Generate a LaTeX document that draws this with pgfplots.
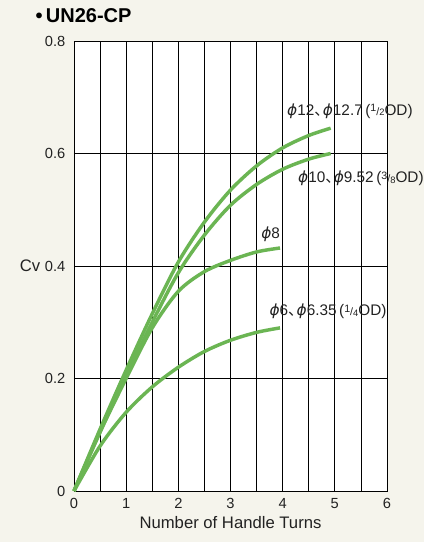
\documentclass[border=0pt]{standalone}
\usepackage{pgfplots}
\pgfplotsset{compat=1.18}
\usepackage{fontspec}
\setmainfont{Liberation Sans}
\newfontfamily\cjk{Noto Sans CJK JP}
\newfontfamily\dv{DejaVu Sans}
\usetikzlibrary{backgrounds}
\definecolor{bg}{HTML}{F5F4EC}
\definecolor{curve}{HTML}{6BB553}
\definecolor{txt}{HTML}{222222}
\newcommand{\ph}{{\dv\itshape ϕ}}
\newcommand{\cm}{{\cjk 、}\kern-0.45em}
\newcommand{\fr}[2]{\raisebox{0.4ex}{\fontsize{8}{9}\selectfont #1}{\fontsize{8}{9}\selectfont/}\raisebox{-0.1ex}{\fontsize{7}{8}\selectfont #2}}
\begin{document}
\begin{tikzpicture}[x=1pt,y=1pt]
\begin{axis}[
  scale only axis,
  width=234.75pt, height=337.5pt,
  xmin=0, xmax=6, ymin=0, ymax=0.8,
  xtick={0,1,...,6},
  minor xtick={0.5,1.5,2.5,3.5,4.5,5.5},
  ytick={0,0.2,0.4,0.6,0.8},
  yticklabels={0,0.2,0.4,0.6,0.8},
  major tick length=0pt, minor tick length=0pt,
  grid=both,
  major grid style={black, line width=0.5pt},
  minor grid style={black, line width=0.5pt},
  axis line style={black, line width=0.7pt},
  axis background/.style={fill=white},
  tick label style={font=\fontsize{11}{13}\selectfont, text=txt},
  xticklabel style={yshift=-2pt},
  yticklabel style={xshift=-3pt},
  /pgf/number format/assume math mode=true,
  clip=false,
]
\addplot[curve, line width=2.6pt, smooth] coordinates {
  (0,0) (0.5,0.11) (1,0.215) (1.5,0.315) (2,0.407) (2.5,0.478) (3,0.535) (3.5,0.578) (4,0.61) (4.5,0.632) (4.92,0.645)
};
\addplot[curve, line width=2.6pt, smooth] coordinates {
  (0,0) (0.5,0.105) (1,0.205) (1.5,0.3) (2,0.388) (2.5,0.455) (3,0.508) (3.5,0.545) (4,0.572) (4.5,0.59) (4.92,0.6)
};
\addplot[curve, line width=2.6pt, smooth] coordinates {
  (0,0) (0.5,0.105) (1,0.2) (1.5,0.29) (2,0.355) (2.5,0.39) (3,0.41) (3.5,0.425) (3.95,0.432)
};
\addplot[curve, line width=2.6pt, smooth] coordinates {
  (0,0) (0.5,0.08) (1,0.14) (1.5,0.185) (2,0.22) (2.5,0.248) (3,0.268) (3.5,0.282) (3.95,0.29)
};
\node[anchor=south, font=\fontsize{11.5}{13}\selectfont, text=txt, inner sep=0pt] at (axis cs:5.29,0.662) {\ph12\cm\ph12.7\,(\fr{1}{2}OD)};
\node[anchor=north, font=\fontsize{11.5}{13}\selectfont, text=txt, inner sep=0pt] at (axis cs:5.5,0.57) {\ph10\cm\ph9.52\,(\fr{3}{8}OD)};
\node[anchor=south, font=\fontsize{11.5}{13}\selectfont, text=txt, inner sep=0pt] at (axis cs:3.77,0.442) {\ph8};
\node[anchor=south, font=\fontsize{11.5}{13}\selectfont, text=txt, inner sep=0pt] at (axis cs:4.87,0.305) {\ph6\cm\ph6.35\,(\fr{1}{4}OD)};
\node[font=\fontsize{12.5}{14}\selectfont, text=txt, inner sep=0pt] at ([xshift=-33pt]axis cs:0,0.4) {Cv};
\node[font=\fontsize{12.5}{14}\selectfont, text=txt, inner sep=0pt] at ([yshift=-24pt]axis cs:3,0) {Number of Handle Turns};
\coordinate (ll) at ([xshift=-55.5pt,yshift=-38.25pt]rel axis cs:0,0);
\coordinate (ur) at ([xshift=27.75pt,yshift=30.75pt]rel axis cs:1,1);
\end{axis}
\node[anchor=west, font=\bfseries\fontsize{15}{17}\selectfont, text=black, inner sep=0pt] at ([xshift=26.5pt, yshift=395pt]ll) {\textbullet\,UN26-CP};
\pgfresetboundingbox
\path[use as bounding box] (ll) rectangle (ur);
\begin{scope}[on background layer]
\fill[bg] (ll) rectangle (ur);
\end{scope}
\end{tikzpicture}
\end{document}
